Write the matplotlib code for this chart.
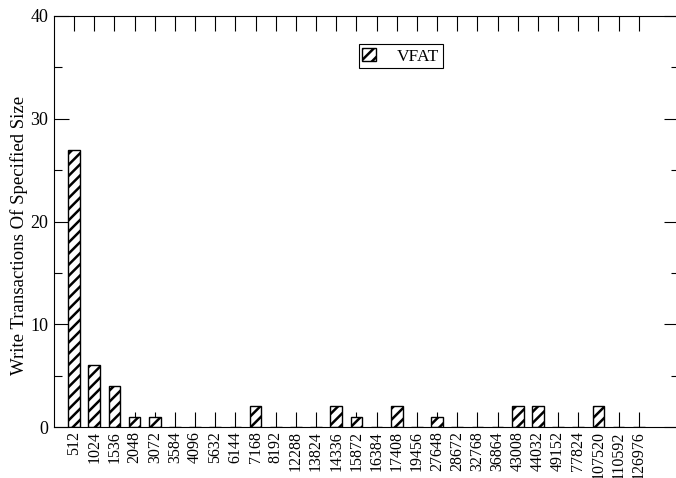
import numpy as np
import matplotlib
matplotlib.use("Agg")
import matplotlib.pyplot as plt
from matplotlib.ticker import MultipleLocator

# transaction sizes (bytes) and how many writes of each size
sizes = ["512", "1024", "1536", "2048", "3072", "3584", "4096", "5632", "6144",
         "7168", "8192", "12288", "13824", "14336", "15872", "16384", "17408",
         "19456", "27648", "28672", "32768", "36864", "43008", "44032", "49152",
         "77824", "107520", "110592", "126976"]
vfat = [27, 6, 4, 1, 1, 0, 0, 0, 0, 2, 0, 0, 0, 2, 1, 0, 2, 0, 1, 0, 0, 0,
        2, 2, 0, 0, 2, 0, 0]

plt.rcParams['font.family'] = ['Liberation Serif', 'DejaVu Serif']
plt.rcParams['hatch.linewidth'] = 1.8

fig = plt.figure(figsize=(6.76, 4.78), dpi=100)
# axes runs a bit past the right edge of the figure, as in the original
ax = fig.add_axes([54 / 676, 1 - 427 / 478, 625 / 676, 411 / 478])

x = np.arange(1, len(sizes) + 1)
ax.bar(x, vfat, width=0.58, color="white", edgecolor="black",
       hatch="///", linewidth=1.0, label="VFAT", zorder=2)

ax.set_xlim(0, 31)
ax.set_ylim(0, 40)
ax.set_xticks(x)
ax.set_xticklabels(sizes, rotation=90)
ax.yaxis.set_major_locator(MultipleLocator(10))
ax.yaxis.set_minor_locator(MultipleLocator(5))
ax.tick_params(axis="both", which="major", direction="in", length=11,
               width=0.8, top=True, right=True)
ax.tick_params(axis="x", labelsize=11.5, pad=3)
ax.tick_params(axis="y", labelsize=13, pad=4)
ax.tick_params(axis="y", which="minor", direction="in", length=6,
               width=0.8, right=True)
ax.set_ylabel("Write Transactions Of Specified Size", fontsize=13.5)
ax.yaxis.set_label_coords(-0.041, 0.467)

leg = ax.legend(loc="center", bbox_to_anchor=(0.555, 0.902), fontsize=12.5,
                fancybox=False, edgecolor="black", framealpha=1,
                handlelength=0.8, handleheight=0.8, borderpad=0.2,
                handletextpad=1.2)
leg.get_frame().set_linewidth(0.8)

fig.savefig("out.png", dpi=100)
